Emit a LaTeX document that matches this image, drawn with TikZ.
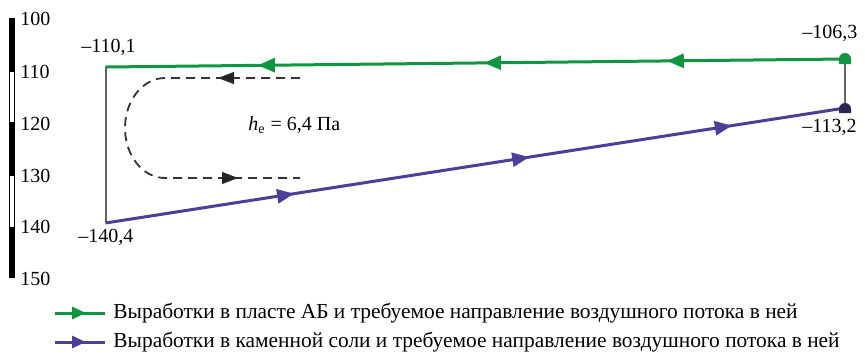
\documentclass[tikz,border=0pt]{standalone}
\usepackage{fontspec}
\setmainfont{Liberation Serif}
\newfontfamily\serf{Liberation Serif}
\usetikzlibrary{arrows.meta,decorations.markings}
\definecolor{gline}{RGB}{16,150,64}
\definecolor{pline}{RGB}{78,62,150}
\definecolor{navy}{RGB}{45,38,82}
\definecolor{gry}{RGB}{100,100,100}
\tikzset{
  lbl/.style={inner sep=0pt,font=\serf\fontsize{10pt}{12pt}\selectfont},
  leglbl/.style={inner sep=0pt,font=\serf\fontsize{10.7pt}{12pt}\selectfont},
  greenflow/.style={gline,line width=1.5pt,
    postaction={decorate,decoration={markings,
      mark=at position 0.241 with {\arrow{Triangle[length=8.5pt,width=7pt]}},
      mark=at position 0.488 with {\arrow{Triangle[length=8.5pt,width=7pt]}},
      mark=at position 0.794 with {\arrow{Triangle[length=8.5pt,width=7pt]}}}}},
  purpleflow/.style={pline,line width=1.5pt,
    postaction={decorate,decoration={markings,
      mark=at position 0.255 with {\arrow{Triangle[length=8.5pt,width=7pt]}},
      mark=at position 0.573 with {\arrow{Triangle[length=8.5pt,width=7pt]}},
      mark=at position 0.847 with {\arrow{Triangle[length=8.5pt,width=7pt]}}}}},
  loopline/.style={black!80,line width=0.9pt,dash pattern=on 4.5pt off 3pt},
  looparrow/.style={black!85,-{Triangle[length=8pt,width=6pt]}},
  legarrow/.style={line width=1.5pt,
    postaction={decorate,decoration={markings,
      mark=at position 0.62 with {\arrow{Triangle[length=7pt,width=6pt]}}}}},
  vline/.style={gry,line width=1pt},
}
\begin{document}
\begin{tikzpicture}[x=0.5pt,y=-0.5pt]
\useasboundingbox (0,0) rectangle (865,355);
% scale bar
\fill[black] (9,18) rectangle (15,71);
\draw[black,fill=white,line width=0.5pt] (9.5,71) rectangle (14.5,122);
\fill[black] (9,122) rectangle (15,175);
\draw[black,fill=white,line width=0.5pt] (9.5,175) rectangle (14.5,227);
\fill[black] (9,227) rectangle (15,278);
\node[lbl,anchor=base west] (s100) at (20,25) {100};
\node[lbl,anchor=base west] (s110) at (20,78) {110};
\node[lbl,anchor=base west] (s120) at (20,130) {120};
\node[lbl,anchor=base west] (s130) at (20,182) {130};
\node[lbl,anchor=base west] (s140) at (20,233) {140};
\node[lbl,anchor=base west] (s150) at (20,285) {150};
% points
\coordinate (gl) at (105.5,67);
\coordinate (gr) at (845,59);
\coordinate (pl) at (105.5,223);
\coordinate (pr) at (845,108);
\draw[vline] (gl) -- (pl);
\draw[vline] (gr) -- (pr);
\draw[greenflow] (gr) -- (gl);
\draw[purpleflow] (pl) -- (pr);
\fill[gline] (839,64) -- (839,59) arc[start angle=180,end angle=360,radius=6] -- (851,64) -- cycle;
\fill[navy] (839,113) -- (839,109) arc[start angle=180,end angle=360,radius=6] -- (851,113) -- cycle;
% value labels
\node[lbl,anchor=base west] (v1) at (81,52) {–110,1};
\node[lbl,anchor=base west] (v2) at (802,38) {–106,3};
\node[lbl,anchor=base west] (v3) at (802,132) {–113,2};
\node[lbl,anchor=base west] (v4) at (78,242) {–140,4};
% dashed loop
\coordinate (la) at (300,78);
\coordinate (lb) at (165,78);
\coordinate (lc) at (165,178);
\coordinate (ld) at (300,178);
\draw[loopline] (la) -- (lb) arc[start angle=270,end angle=90,x radius=40,y radius=50] -- (ld);
\draw[looparrow] (232,78) -- (218,78);
\draw[looparrow] (222,178) -- (238,178);
\node[lbl,anchor=base west] (he) at (248,130) {\textit{h}\textsubscript{e} = 6,4 Па};
% legend
\coordinate (g1) at (55,313);
\coordinate (g2) at (105,313);
\coordinate (p1) at (55,342);
\coordinate (p2) at (105,342);
\draw[legarrow,gline] (g1) -- (g2);
\draw[legarrow,pline] (p1) -- (p2);
\node[leglbl,anchor=base west] (t1) at (113,318) {Выработки в пласте АБ и требуемое направление воздушного потока в ней};
\node[leglbl,anchor=base west] (t2) at (113,347) {Выработки в каменной соли и требуемое направление воздушного потока в ней};
\end{tikzpicture}
\end{document}
